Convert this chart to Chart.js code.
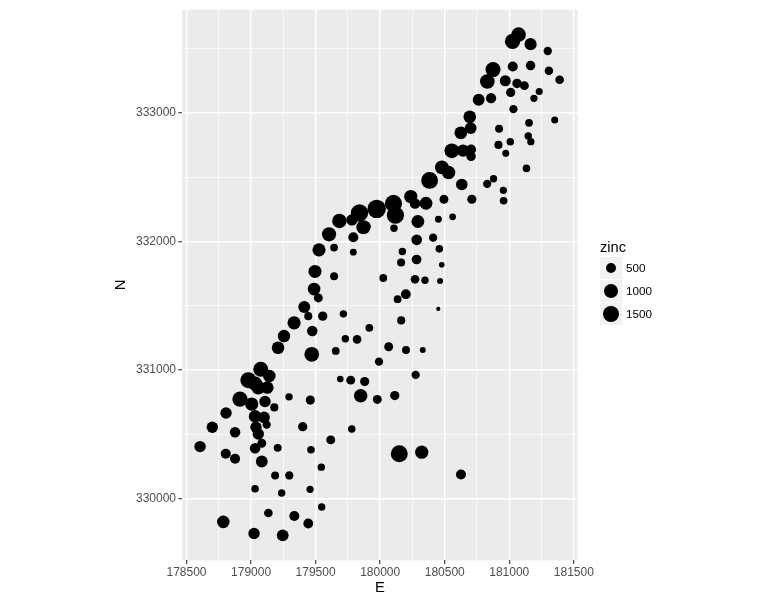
<!DOCTYPE html>
<html>
<head>
<meta charset="utf-8">
<script src="https://cdn.jsdelivr.net/npm/chart.js@4.4.1/dist/chart.umd.min.js"></script>
<style>
    body { margin: 0; background: #ffffff; }
    #chart_container { position: relative; width: 777px; height: 601px; font-family: "Liberation Sans", Arial, sans-serif; }
    #legenda_zinc { position: absolute; left: 600px; top: 237px; }
    #legenda_zinc .titolo { font-size: 14.7px; line-height: 20px; color: #000; }
    #legenda_zinc .voce { position: relative; height: 23px; }
    #legenda_zinc .chiave { position: absolute; left: 0; top: 0; width: 22px; height: 22px; background: #f2f2f2; }
    #legenda_zinc .chiave span { position: absolute; border-radius: 50%; background: #000; }
    #legenda_zinc .etichetta { position: absolute; left: 26px; top: 0; line-height: 22px; font-size: 11.7px; color: #000; }
</style>
</head>
<body>
<div id="chart_container">
    <canvas id="bubble_zinc" width="777" height="601"></canvas>
    <div id="legenda_zinc"></div>
</div>
<script>
    const east = [
        181072, 181025, 181165, 181298, 181307, 181390, 181165, 181027, 181060, 181232,
        181191, 181032, 180874, 180969, 181011, 180830, 180763, 180694, 180625, 180555,
        180642, 180704, 180704, 181153, 181147, 181167, 181008, 180973, 180916, 181352,
        181133, 180878, 180829, 180954, 180956, 180710, 180632, 180530, 180478, 180383,
        180494, 180561, 180451, 180410, 180355, 180292, 180283, 180282, 180270, 180199,
        180135, 180237, 180103, 179973, 180118, 179870, 179887, 179781, 179840,
        179684, 179604, 179526, 179495, 179488, 179412, 179333, 179470, 179255, 179209,
        179075, 179141, 178979, 179031, 179056, 179126, 178914, 179005, 179108, 179294,
        179180, 178806, 179031, 179100, 179121, 179038, 179056, 178700, 178876,
        178605, 178804, 178876, 179031, 179083, 179083, 179206, 179464, 179186, 179296,
        179031, 179237, 179457, 179134, 179335, 179443, 178785, 179023, 179245,
        179617, 180148, 180322, 179544, 180626, 179547,
        179643, 179643, 179521, 179443, 179555, 179715, 179916,
        180163, 179474, 179730, 179821, 179656, 180066, 180200, 180330, 179991, 180275,
        179691, 179772, 179880, 179849, 179978, 180113, 179459, 179400, 179780,
        181117, 180859, 180701, 180921, 180270, 179792, 180107, 180458, 180172, 179792,
        180162, 180477, 180024, 180347, 180464, 180450
    ];
    const north = [
        333611, 333558, 333537, 333484, 333330, 333260, 333370, 333363, 333231, 333168,
        333115, 333031, 333339, 333252, 333161, 333246, 333104, 332972, 332847, 332707,
        332708, 332717, 332664, 332925, 332823, 332778, 332777, 332687, 332753, 332946,
        332570, 332489, 332450, 332399, 332318, 332330, 332445, 332538, 332578, 332476,
        332330, 332193, 332175, 332031, 332299, 332157, 332014, 331861, 331707, 331591,
        331552, 332351, 332297, 332255, 332206, 332112, 332118, 332169, 332223,
        332161, 332057, 331936, 331768, 331631, 331492, 331368, 331123, 331265, 331174,
        331007, 330955, 330922, 330894, 330864, 330864, 330775, 330736, 330756, 330792,
        330710, 330666, 330640, 330632, 330576, 330555, 330503, 330555, 330516,
        330405, 330349, 330310, 330392, 330431, 330289, 330395, 330380, 330180, 330180,
        330077, 330043, 330072, 329888, 329865, 329806, 329819, 329729, 329714,
        330457, 330349, 330361, 330245, 330188, 329935,
        331954, 331730, 331562, 331420, 331420, 331438, 331329,
        331387, 331304, 331244, 331239, 331149, 331182, 331156, 331156, 331066, 330963,
        330930, 330922, 330911, 330800, 330772, 330802, 330767, 330560, 330542,
        333214, 333116, 332884, 332878, 332297, 332034, 332104, 331944, 331923, 331918,
        331838, 331820, 331717, 331699, 331693, 331476
    ];
    const zinc = [
        1022, 1141, 640, 257, 269, 281, 346, 406, 347, 183,
        189, 251, 1096, 504, 326, 1032, 606, 711, 735, 1052,
        673, 402, 343, 218, 200, 194, 207, 180, 240, 180,
        208, 198, 250, 192, 213, 321, 569, 833, 906, 1454,
        298, 167, 176, 258, 746, 746, 464, 365, 282, 375,
        222, 812, 1548, 1839, 1528, 933, 432, 550, 1571,
        1000, 950, 800, 780, 720, 620, 800, 1060, 700, 700,
        1100, 700, 1300, 1000, 900, 700, 1150, 800, 550, 200,
        240, 550, 700, 600, 250, 550, 550, 550, 450,
        550, 400, 400, 450, 300, 600, 230, 210, 230, 250,
        210, 200, 190, 280, 400, 380, 700, 550, 600,
        300, 1500, 800, 200, 400, 200,
        220, 230, 300, 240, 330, 200, 220,
        240, 450, 200, 280, 220, 300, 230, 140, 250, 250,
        160, 300, 320, 850, 300, 330, 320, 330, 200,
        300, 420, 600, 230, 450, 400, 200, 210, 200, 170,
        240, 130, 220, 200, 140, 113
    ];
    const xTicks = [178500, 179000, 179500, 180000, 180500, 181000, 181500];
    const yTicks = [330000, 331000, 332000, 333000];
    const legendBreaks = [500, 1000, 1500];

    const zMin = Math.min(...zinc), zMax = Math.max(...zinc);
    // ggplot scale_size: area palette, range 1..6
    function dotDiameter(z) {
        const s = 1 + 5 * Math.sqrt((z - zMin) / (zMax - zMin));
        return 2.845 * s + 1.4;
    }

    function expanded(values) {
        const lo = Math.min(...values), hi = Math.max(...values);
        const pad = (hi - lo) * 0.05;
        return [lo - pad, hi + pad];
    }
    const [xMin, xMax] = expanded(east);
    const [yMin, yMax] = expanded(north);

    function gridValues(lo, hi, step) {
        const out = [];
        for (let v = Math.ceil(lo / step) * step; v <= hi; v += step) out.push(v);
        return out;
    }
    const xGrid = gridValues(xMin, xMax, 250);
    const yGrid = gridValues(yMin, yMax, 500);

    const points = east.map((e, i) => ({ x: e, y: north[i] }));

    const panelBackground = {
        id: 'panelBackground',
        beforeDraw(chart) {
            const a = chart.chartArea;
            chart.ctx.save();
            chart.ctx.fillStyle = '#ebebeb';
            chart.ctx.fillRect(a.left, a.top, a.right - a.left, a.bottom - a.top);
            chart.ctx.restore();
        }
    };

    Chart.defaults.font.family = '"Liberation Sans", Arial, sans-serif';

    new Chart(document.getElementById('bubble_zinc'), {
        type: 'scatter',
        data: {
            datasets: [{
                label: 'zinc',
                data: points,
                backgroundColor: '#000000',
                borderWidth: 0,
                pointRadius: ctx => dotDiameter(zinc[ctx.dataIndex]) / 2,
                pointHoverRadius: ctx => dotDiameter(zinc[ctx.dataIndex]) / 2,
            }]
        },
        options: {
            responsive: false,
            animation: false,
            layout: { padding: { left: 112, right: 199.4, top: 7, bottom: 0 } },
            plugins: { legend: { display: false }, tooltip: { enabled: false } },
            scales: {
                x: {
                    type: 'linear',
                    min: xMin,
                    max: xMax,
                    afterBuildTicks: s => { s.ticks = xGrid.map(v => ({ value: v })); },
                    afterFit: s => { s.height = 40.6; },
                    ticks: {
                        autoSkip: false,
                        maxRotation: 0,
                        padding: 1,
                        color: '#4d4d4d',
                        font: { size: 12 },
                        callback: v => xTicks.includes(v) ? String(v) : '',
                    },
                    grid: {
                        color: '#ffffff',
                        lineWidth: ctx => xTicks.includes(ctx.tick.value) ? 1.4 : 0.7,
                        tickLength: 3.7,
                        tickWidth: 1.1,
                        tickColor: ctx => xTicks.includes(ctx.tick.value) ? '#333333' : 'rgba(0,0,0,0)',
                    },
                    border: { display: false },
                    title: { display: true, text: 'E', color: '#000', font: { size: 14.7 }, padding: { top: 0, bottom: 4 } },
                },
                y: {
                    type: 'linear',
                    min: yMin,
                    max: yMax,
                    afterBuildTicks: s => { s.ticks = yGrid.map(v => ({ value: v })); },
                    afterFit: s => { s.width = 70.1; },
                    ticks: {
                        autoSkip: false,
                        padding: 2.4,
                        color: '#4d4d4d',
                        font: { size: 12 },
                        callback: v => yTicks.includes(v) ? String(v) : '',
                    },
                    grid: {
                        color: '#ffffff',
                        lineWidth: ctx => yTicks.includes(ctx.tick.value) ? 1.4 : 0.7,
                        tickLength: 3.7,
                        tickWidth: 1.1,
                        tickColor: ctx => yTicks.includes(ctx.tick.value) ? '#333333' : 'rgba(0,0,0,0)',
                    },
                    border: { display: false },
                    title: { display: true, text: 'N', color: '#000', font: { size: 14.7 }, padding: { top: 0, bottom: 4 } },
                },
            },
        },
        plugins: [panelBackground],
    });

    const legenda = document.getElementById('legenda_zinc');
    let html = '<div class="titolo">zinc</div>';
    legendBreaks.forEach(b => {
        const d = dotDiameter(b);
        const off = (22 - d) / 2;
        html += '<div class="voce"><div class="chiave"><span style="width:' + d + 'px;height:' + d +
                'px;left:' + off + 'px;top:' + off + 'px"></span></div><div class="etichetta">' + b + '</div></div>';
    });
    legenda.innerHTML = html;
</script>
</body>
</html>
